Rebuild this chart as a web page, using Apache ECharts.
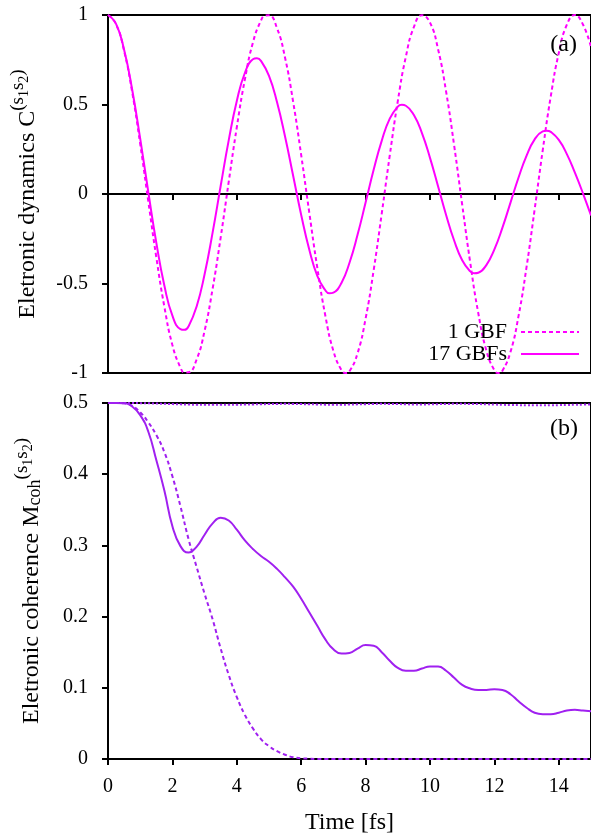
<!DOCTYPE html>
<html>
<head>
<meta charset="utf-8">
<script src="https://cdn.jsdelivr.net/npm/echarts@6/dist/echarts.min.js"></script>
<style>
  html, body { margin: 0; padding: 0; background: #fff; }
  #chart { width: 591px; height: 836px; }
</style>
</head>
<body>
<div id="chart"></div>
<script>
// (a) electronic dynamics, 1 GBF
var tDyn1 = [0, 0.25, 0.5, 0.75, 1, 1.25, 1.5, 1.75, 2, 2.25, 2.375, 2.5, 2.75, 3, 3.25, 3.5, 3.75,
    4, 4.25, 4.5, 4.75, 4.875, 5, 5.25, 5.5, 5.75, 6, 6.25, 6.5, 6.75, 7, 7.25, 7.375, 7.5, 7.75,
    8, 8.25, 8.5, 8.75, 9, 9.25, 9.5, 9.75, 10, 10.25, 10.5, 10.75, 11, 11.25, 11.5, 11.75,
    12, 12.125, 12.25, 12.5, 12.75, 13, 13.25, 13.5, 13.75, 14, 14.25, 14.5, 14.75, 15];
var dyn1GBF = [1, 0.949, 0.800, 0.570, 0.280, -0.039, -0.353, -0.629, -0.844, -0.970, -0.997, -0.996, -0.926, -0.764, -0.528, -0.242, 0.069,
    0.373, 0.639, 0.846, 0.969, 0.996, 0.998, 0.926, 0.760, 0.515, 0.217, -0.103, -0.412, -0.680, -0.877, -0.984, -1.0, -0.990, -0.890,
    -0.696, -0.426, -0.111, 0.215, 0.519, 0.767, 0.933, 0.999, 0.957, 0.809, 0.572, 0.271, -0.060, -0.384, -0.666, -0.874,
    -0.985, -1.0, -0.987, -0.882, -0.681, -0.406, -0.086, 0.243, 0.545, 0.788, 0.946, 1.0, 0.947, 0.82];

// (a) electronic dynamics, 17 GBFs
var tDyn17 = [0, 0.25, 0.5, 0.75, 1, 1.25, 1.5, 1.75, 2, 2.25, 2.375, 2.5, 2.75, 3, 3.25, 3.5, 3.75,
    4, 4.25, 4.5, 4.625, 4.75, 5, 5.25, 5.5, 5.75, 6, 6.25, 6.5, 6.75, 6.875, 7, 7.25, 7.5, 7.75,
    8, 8.25, 8.5, 8.75, 9, 9.125, 9.25, 9.5, 9.75, 10, 10.25, 10.5, 10.75, 11, 11.25, 11.375, 11.5, 11.75,
    12, 12.25, 12.5, 12.75, 13, 13.25, 13.5, 13.625, 13.75, 14, 14.25, 14.5, 14.75, 15];
var dyn17GBFs = [1, 0.950, 0.806, 0.584, 0.309, 0.013, -0.272, -0.511, -0.680, -0.755, -0.759, -0.740, -0.630, -0.448, -0.214, 0.046, 0.301,
    0.520, 0.676, 0.753, 0.758, 0.744, 0.660, 0.513, 0.320, 0.102, -0.117, -0.310, -0.457, -0.538, -0.555, -0.551, -0.497, -0.384, -0.228,
    -0.048, 0.135, 0.297, 0.421, 0.488, 0.498, 0.493, 0.441, 0.340, 0.202, 0.043, -0.117, -0.260, -0.370, -0.432, -0.443, -0.440, -0.397,
    -0.309, -0.188, -0.048, 0.092, 0.215, 0.305, 0.350, 0.354, 0.347, 0.302, 0.223, 0.119, 0.004, -0.12];

// (b) electronic coherence
var tCoh = [0, 0.25, 0.5, 0.75, 1, 1.25, 1.5, 1.75, 2, 2.25, 2.5, 2.75, 3, 3.25, 3.5, 3.75,
    4, 4.25, 4.5, 4.75, 5, 5.25, 5.5, 5.75, 6, 6.25, 6.5, 6.75, 7, 7.25, 7.5, 7.75,
    8, 8.25, 8.5, 8.75, 9, 9.25, 9.5, 9.75, 10, 10.25, 10.5, 10.75, 11, 11.25, 11.5, 11.75,
    12, 12.25, 12.5, 12.75, 13, 13.25, 13.5, 13.75, 14, 14.25, 14.5, 14.75, 15];
var coh1GBF = [0.5, 0.5, 0.4995, 0.496, 0.487, 0.473, 0.455, 0.431, 0.397, 0.355, 0.309, 0.270, 0.232, 0.196, 0.155, 0.118,
    0.087, 0.062, 0.043, 0.028, 0.018, 0.011, 0.006, 0.0025, 0.001, 0.0004, 0.0001, 0, 0, 0, 0, 0,
    0, 0, 0, 0, 0, 0, 0, 0, 0, 0, 0, 0, 0, 0, 0, 0,
    0, 0, 0, 0, 0, 0, 0, 0, 0, 0, 0, 0, 0];
var coh17GBFs = [0.5, 0.5, 0.4995, 0.495, 0.483, 0.460, 0.420, 0.377, 0.327, 0.299, 0.290, 0.298, 0.315, 0.331, 0.339, 0.335,
    0.322, 0.307, 0.295, 0.285, 0.277, 0.267, 0.255, 0.242, 0.225, 0.206, 0.187, 0.168, 0.154, 0.148, 0.149, 0.155,
    0.160, 0.159, 0.150, 0.138, 0.128, 0.124, 0.124, 0.127, 0.130, 0.130, 0.124, 0.114, 0.104, 0.099, 0.097, 0.097,
    0.098, 0.097, 0.091, 0.081, 0.072, 0.065, 0.063, 0.063, 0.065, 0.068, 0.069, 0.068, 0.067];
var cohDotted = [0.5, 0.5, 0.5, 0.4999, 0.4998, 0.4996, 0.4993, 0.4989, 0.4985, 0.4981, 0.4978, 0.4976, 0.4975, 0.4974, 0.4974, 0.4975,
    0.4976, 0.4978, 0.498, 0.4983, 0.4985, 0.4987, 0.4988, 0.4987, 0.4985, 0.4982, 0.498, 0.4977, 0.4976, 0.4976, 0.4978, 0.4981,
    0.4984, 0.4987, 0.4988, 0.4987, 0.4985, 0.4982, 0.498, 0.498, 0.4982, 0.4984, 0.4986, 0.4988, 0.4988, 0.4987, 0.4985, 0.4982,
    0.4978, 0.4975, 0.4972, 0.497, 0.4968, 0.4967, 0.4968, 0.4969, 0.497, 0.4972, 0.4975, 0.4977, 0.498];

var legendNames = ['1 GBF', '17 GBFs'];

var FONT = 'Liberation Serif';
var MAGENTA = '#ff00ff';
var VIOLET = '#a020f0';

function pairs(ts, ys) {
    return ts.map(function (t, i) { return [t, ys[i]]; });
}

function xAxisOpt(idx, showLabel) {
    return {
        type: 'value',
        gridIndex: idx,
        min: 0,
        max: 15,
        interval: 2,
        axisLine: { show: true, lineStyle: { color: '#000', width: 2 } },
        axisTick: { show: true, inside: false, length: 6, lineStyle: { color: '#000', width: 2 } },
        axisLabel: {
            show: showLabel,
            showMaxLabel: false,
            margin: 18,
            color: '#000',
            fontFamily: FONT,
            fontSize: 20,
        },
        splitLine: { show: false },
    };
}

function yAxisOpt(idx, min, max, interval) {
    return {
        type: 'value',
        gridIndex: idx,
        min: min,
        max: max,
        interval: interval,
        nameLocation: 'middle',
        nameRotate: 90,
        axisLine: { show: true, lineStyle: { color: '#000', width: 2 } },
        axisTick: { show: true, inside: false, length: 6, lineStyle: { color: '#000', width: 2 } },
        axisLabel: { margin: 20, color: '#000', fontFamily: FONT, fontSize: 20 },
        splitLine: { show: false },
    };
}

var nameRich = {
    n: { fontFamily: FONT, fontSize: 24, color: '#000', lineHeight: 27, verticalAlign: 'bottom' },
    sb: { fontFamily: FONT, fontSize: 18, color: '#000', lineHeight: 20, verticalAlign: 'bottom', padding: [0, 0, 0, 0] },
    sp: { fontFamily: FONT, fontSize: 19, color: '#000', lineHeight: 21, verticalAlign: 'bottom', padding: [0, 0, 12, 0] },
    ss: { fontFamily: FONT, fontSize: 14, color: '#000', lineHeight: 16, verticalAlign: 'bottom', padding: [0, 0, 9, 0] },
};

var yA = yAxisOpt(0, -1, 1, 0.5);
yA.name = '{n|Eletronic dynamics C}{sp|(s}{ss|1}{sp|s}{ss|2}{sp|)}';
yA.nameGap = 68;
yA.nameTextStyle = { rich: nameRich };

var yB = yAxisOpt(1, 0, 0.5, 0.1);
yB.name = '{n|Eletronic coherence M}{sb|coh}{sp|(s}{ss|1}{sp|s}{ss|2}{sp|)}';
yB.nameGap = 64;
yB.nameTextStyle = { rich: nameRich };

var xB = xAxisOpt(1, true);
xB.name = 'Time [fs]';
xB.nameLocation = 'middle';
xB.nameGap = 52;
xB.nameTextStyle = { fontFamily: FONT, fontSize: 24, color: '#000' };

function legendOpt(name, top) {
    return {
        data: [name],
        right: 11,
        top: top,
        padding: 0,
        orient: 'vertical',
        align: 'right',
        itemWidth: 58,
        itemHeight: 14,
        selectedMode: false,
        itemStyle: { opacity: 0 },
        textStyle: { fontFamily: FONT, fontSize: 22, color: '#000', padding: [0, 9, 0, 0] },
    };
}

var labelStyle = { fontFamily: FONT, fontSize: 24, fontWeight: 'normal', color: '#000' };

var option = {
    backgroundColor: '#fff',
    animation: false,
    title: [
        { text: '(a)', right: 14, top: 33, padding: 0, textStyle: labelStyle },
        { text: '(b)', right: 13, top: 417, padding: 0, textStyle: labelStyle },
    ],
    legend: [legendOpt(legendNames[0], 321), legendOpt(legendNames[1], 343)],
    grid: [
        { left: 108, top: 15, width: 485, height: 358, show: true, borderColor: '#000', borderWidth: 2, backgroundColor: 'transparent' },
        { left: 108, top: 403, width: 485, height: 359, show: true, borderColor: '#000', borderWidth: 2, backgroundColor: 'transparent' },
    ],
    xAxis: [xAxisOpt(0, false), xB],
    yAxis: [yA, yB],
    series: [
        {
            name: legendNames[0], type: 'line', xAxisIndex: 0, yAxisIndex: 0,
            data: pairs(tDyn1, dyn1GBF), symbol: 'none', smooth: 0.5,
            lineStyle: { color: MAGENTA, width: 2, type: [4, 3] }, itemStyle: { color: MAGENTA },
        },
        {
            name: legendNames[1], type: 'line', xAxisIndex: 0, yAxisIndex: 0,
            data: pairs(tDyn17, dyn17GBFs), symbol: 'none', smooth: 0.5,
            lineStyle: { color: MAGENTA, width: 2 }, itemStyle: { color: MAGENTA },
        },
        {
            name: 'coh dotted', type: 'line', xAxisIndex: 1, yAxisIndex: 1,
            data: pairs(tCoh, cohDotted), symbol: 'none', smooth: 0.5,
            lineStyle: { color: VIOLET, width: 2, type: [2, 2] },
        },
        {
            name: 'coh 1 GBF', type: 'line', xAxisIndex: 1, yAxisIndex: 1,
            data: pairs(tCoh, coh1GBF), symbol: 'none', smooth: 0.5,
            lineStyle: { color: VIOLET, width: 2, type: [4, 3] },
        },
        {
            name: 'coh 17 GBFs', type: 'line', xAxisIndex: 1, yAxisIndex: 1,
            data: pairs(tCoh, coh17GBFs), symbol: 'none', smooth: 0.5,
            lineStyle: { color: VIOLET, width: 2 },
        },
    ],
};

var chart = echarts.init(document.getElementById('chart'));
chart.setOption(option);
</script>
</body>
</html>
